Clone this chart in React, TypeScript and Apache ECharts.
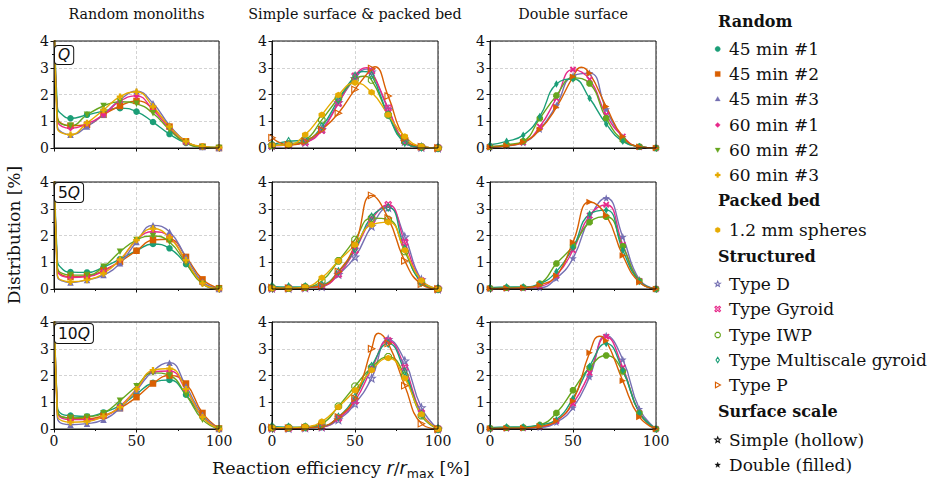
import React, { useEffect, useRef } from 'react';
import * as echarts from 'echarts';

// ---------------- data ----------------
const colTitles = ['Random monoliths', 'Simple surface & packed bed', 'Double surface'];
const rowLabels = ['Q', '5Q', '10Q'];

// x positions: random monoliths have extra unmarked points near 0 (steep rise)
const xRandom = [0, 2, 5, 10, 20, 30, 40, 50, 60, 70, 80, 90, 100];
const xStruct = [0, 10, 20, 30, 40, 50, 60, 70, 80, 90, 100];

const randomNames = ['45 min #1', '45 min #2', '45 min #3', '60 min #1', '60 min #2', '60 min #3'];
const structNames = ['Type D', 'Type Gyroid', 'Type IWP', 'Type Multiscale gyroid', 'Type P'];
const packedName = '1.2 mm spheres';

// Random monoliths, order of randomNames
const randomQ = [
  [6, 1.55, 1.24, 1.11, 1.24, 1.38, 1.49, 1.36, 0.97, 0.52, 0.19, 0.05, 0.02],
  [6, 1.2, 0.9, 0.83, 0.87, 1.24, 1.57, 1.76, 1.47, 0.8, 0.25, 0.05, 0.0],
  [6, 0.8, 0.58, 0.5, 0.8, 1.25, 1.8, 2.12, 1.67, 0.85, 0.25, 0.04, 0.0],
  [6, 1.1, 0.8, 0.74, 0.9, 1.24, 1.75, 1.95, 1.42, 0.74, 0.19, 0.04, 0.0],
  [6, 1.15, 0.88, 0.83, 1.24, 1.57, 1.73, 1.65, 1.3, 0.68, 0.19, 0.03, 0.0],
  [6, 0.75, 0.56, 0.5, 0.93, 1.42, 1.92, 2.1, 1.55, 0.8, 0.25, 0.06, 0.02],
];
const random5Q = [
  [6, 1.1, 0.75, 0.63, 0.62, 0.82, 1.12, 1.43, 1.68, 1.52, 0.93, 0.24, 0.02],
  [6, 0.8, 0.52, 0.46, 0.48, 0.7, 1.02, 1.43, 1.83, 1.86, 1.2, 0.36, 0.03],
  [6, 0.5, 0.3, 0.24, 0.34, 0.52, 0.96, 1.76, 2.38, 2.14, 1.2, 0.27, 0.0],
  [6, 0.75, 0.48, 0.43, 0.46, 0.67, 1.08, 1.83, 2.14, 1.95, 1.02, 0.21, 0.0],
  [6, 0.85, 0.58, 0.52, 0.52, 0.83, 1.39, 1.83, 1.98, 1.76, 0.96, 0.19, 0.0],
  [6, 0.55, 0.32, 0.27, 0.34, 0.58, 1.1, 1.83, 2.26, 1.93, 1.08, 0.21, 0.0],
];
const random10Q = [
  [6, 0.85, 0.55, 0.5, 0.47, 0.62, 0.87, 1.31, 1.73, 1.83, 1.28, 0.45, 0.0],
  [6, 0.75, 0.45, 0.41, 0.38, 0.5, 0.78, 1.19, 1.7, 2.0, 1.7, 0.6, 0.02],
  [6, 0.45, 0.2, 0.16, 0.2, 0.35, 0.78, 1.45, 2.17, 2.48, 1.6, 0.53, 0.0],
  [6, 0.65, 0.4, 0.35, 0.35, 0.45, 0.85, 1.49, 2.14, 2.17, 1.45, 0.45, 0.0],
  [6, 0.7, 0.45, 0.41, 0.45, 0.59, 1.06, 1.6, 2.1, 2.0, 1.28, 0.35, 0.0],
  [6, 0.55, 0.3, 0.25, 0.28, 0.47, 0.82, 1.49, 2.2, 2.26, 1.49, 0.45, 0.0],
];

// Simple surface (hollow), order of structNames
const simpleQ = [
  [0.1, 0.12, 0.22, 0.7, 1.7, 2.6, 2.85, 1.45, 0.25, 0.03, 0],
  [0.08, 0.12, 0.21, 0.66, 1.67, 2.69, 2.88, 1.49, 0.25, 0.03, 0],
  [0.1, 0.15, 0.3, 1.05, 1.86, 2.56, 2.54, 1.24, 0.25, 0.04, 0],
  [0.13, 0.25, 0.3, 0.8, 1.8, 2.69, 2.72, 1.24, 0.21, 0.03, 0],
  [0.38, 0.12, 0.25, 0.68, 1.3, 2.19, 2.97, 1.94, 0.37, 0.05, 0],
];
const simple5Q = [
  [0.03, 0.03, 0.05, 0.1, 0.55, 1.2, 2.35, 3.05, 1.95, 0.35, 0],
  [0.03, 0.03, 0.05, 0.1, 0.55, 1.45, 2.6, 3.15, 1.75, 0.3, 0],
  [0.05, 0.03, 0.07, 0.3, 1.05, 1.85, 2.65, 2.6, 1.4, 0.25, 0],
  [0.1, 0.08, 0.08, 0.15, 0.65, 1.5, 2.7, 3.05, 1.5, 0.25, 0],
  [0.05, 0.03, 0.05, 0.12, 0.65, 1.65, 3.5, 2.65, 1.05, 0.18, 0],
];
const simple10Q = [
  [0.03, 0.03, 0.05, 0.08, 0.35, 0.95, 1.9, 3.35, 2.55, 0.8, 0],
  [0.03, 0.03, 0.05, 0.08, 0.4, 1.05, 2.25, 3.3, 2.3, 0.6, 0],
  [0.05, 0.05, 0.07, 0.2, 0.85, 1.6, 2.3, 2.7, 2.0, 0.5, 0],
  [0.1, 0.07, 0.07, 0.1, 0.45, 1.2, 2.35, 3.2, 2.15, 0.55, 0],
  [0.05, 0.03, 0.05, 0.1, 0.45, 1.15, 3.0, 3.2, 1.62, 0.2, 0],
];
// Packed bed 1.2 mm spheres (shown with the simple surface panels)
const packedQ = [0.1, 0.12, 0.5, 1.24, 1.98, 2.44, 2.08, 1.24, 0.43, 0.06, 0];
const packed5Q = [0.03, 0.02, 0.07, 0.42, 1.05, 1.65, 2.4, 2.5, 1.45, 0.32, 0];
const packed10Q = [0.05, 0.05, 0.08, 0.28, 0.82, 1.45, 2.2, 2.65, 1.9, 0.55, 0];

// Double surface (filled), order of structNames
const doubleQ = [
  [0.03, 0.08, 0.2, 0.7, 1.6, 2.7, 2.8, 1.45, 0.4, 0.05, 0],
  [0.05, 0.1, 0.21, 0.8, 1.86, 2.93, 2.56, 1.24, 0.43, 0.04, 0],
  [0.05, 0.12, 0.25, 1.11, 1.96, 2.62, 2.41, 1.11, 0.3, 0.05, 0],
  [0.12, 0.25, 0.48, 1.18, 2.39, 2.58, 1.86, 0.9, 0.25, 0.06, 0],
  [0.03, 0.08, 0.22, 0.68, 1.52, 2.66, 2.79, 1.55, 0.43, 0.05, 0],
];
const double5Q = [
  [0.02, 0.03, 0.04, 0.05, 0.4, 1.15, 2.65, 3.4, 1.95, 0.35, 0],
  [0.02, 0.03, 0.04, 0.1, 0.5, 1.45, 2.75, 3.15, 1.65, 0.3, 0],
  [0.03, 0.05, 0.06, 0.2, 0.95, 1.6, 2.5, 2.7, 1.6, 0.3, 0],
  [0.05, 0.08, 0.08, 0.2, 0.65, 1.55, 2.8, 2.95, 1.45, 0.28, 0],
  [0.02, 0.03, 0.05, 0.15, 0.5, 1.75, 3.25, 2.75, 1.25, 0.25, 0],
];
const double10Q = [
  [0.02, 0.03, 0.04, 0.06, 0.25, 0.8, 1.95, 3.5, 2.6, 0.75, 0],
  [0.02, 0.03, 0.04, 0.08, 0.3, 0.95, 2.1, 3.45, 2.3, 0.6, 0],
  [0.03, 0.05, 0.06, 0.15, 0.6, 1.45, 2.3, 2.75, 2.15, 0.6, 0],
  [0.05, 0.08, 0.08, 0.15, 0.35, 1.15, 2.35, 3.2, 2.2, 0.6, 0],
  [0.02, 0.03, 0.04, 0.1, 0.3, 1.05, 2.85, 3.3, 1.8, 0.45, 0],
];

// Curve maxima read between markers (unmarked points), order of structNames; null = none
const simpleQPeaks = [[57, 2.95], [57, 3.0], [55, 2.68], [55, 2.86], [62, 3.04]];
const simple10QPeaks = [null, null, null, null, [64, 3.58]];
const doubleQPeaks = [null, null, null, null, [55, 3.02]];
const double10QPeaks = [null, null, null, null, [66, 3.47]];

// ---------------- styles ----------------
const SERIF = '"DejaVu Serif", serif';
const SANS = '"DejaVu Sans", sans-serif';
const TEAL = '#1b9e77', ORANGE = '#d95f02', PURPLE = '#7570b3', PINK = '#e7298a', GREEN = '#66a61e', YELLOW = '#e6ab02';
const randomColors = [TEAL, ORANGE, PURPLE, PINK, GREEN, YELLOW];
const randomShapes = ['circle', 'square', 'triangle', 'diamond', 'tridown', 'plus'];
const structColors = [PURPLE, PINK, GREEN, TEAL, ORANGE];
const structShapes = ['star', 'cross', 'octagon', 'thindiamond', 'triright'];

function regular(n: number, r: number, start: number) {
  const pts: number[][] = [];
  for (let k = 0; k < n; k++) {
    const a = start + (k * 2 * Math.PI) / n;
    pts.push([r * Math.cos(a), r * Math.sin(a)]);
  }
  return pts;
}
function starPts() {
  const pts: number[][] = [];
  for (let k = 0; k < 10; k++) {
    const r = k % 2 ? 0.42 : 1;
    const a = -Math.PI / 2 + (k * Math.PI) / 5;
    pts.push([r * Math.cos(a), r * Math.sin(a)]);
  }
  return pts;
}
const SHAPES: Record<string, number[][]> = {
  square: [[-1, -1], [1, -1], [1, 1], [-1, 1]],
  triangle: [[0, -1], [1, 0.75], [-1, 0.75]],
  diamond: [[0, -1], [1, 0], [0, 1], [-1, 0]],
  tridown: [[-1, -0.75], [1, -0.75], [0, 1]],
  plus: [[-0.36, -1], [0.36, -1], [0.36, -0.36], [1, -0.36], [1, 0.36], [0.36, 0.36], [0.36, 1], [-0.36, 1], [-0.36, 0.36], [-1, 0.36], [-1, -0.36], [-0.36, -0.36]],
  hexagon: regular(6, 1, -Math.PI / 2),
  octagon: regular(8, 1, Math.PI / 8),
  star: starPts(),
  cross: [[-0.6, -1], [0, -0.4], [0.6, -1], [1, -0.6], [0.4, 0], [1, 0.6], [0.6, 1], [0, 0.4], [-0.6, 1], [-1, 0.6], [-0.4, 0], [-1, -0.6]],
  thindiamond: [[0, -1], [0.6, 0], [0, 1], [-0.6, 0]],
  triright: [[-0.8, -1], [1, 0], [-0.8, 1]],
};
function symbolOf(shape: string) {
  if (shape === 'circle') return 'circle';
  const pts = SHAPES[shape];
  return 'path://M' + pts.map((p) => p[0].toFixed(3) + ',' + p[1].toFixed(3)).join('L') + 'Z';
}
function symbolSizeOf(shape: string): any {
  if (shape === 'thindiamond') return [4.5, 7.5];
  if (shape === 'circle') return 6.5;
  if (shape === 'star') return 7.5;
  return 6.5;
}

// layout
const colLeft = [54, 272, 490];
const colW = [165, 166, 166];
const rowTop = [41, 182, 322];
const rowH = 107;

function makeSeries(gi: number, xs: number[], vals: number[], shape: string, color: string, hollow: boolean, hidden: number, name: string, peak?: number[] | null) {
  const data: any[] = xs.map((x, i) => (i < hidden ? { value: [x, vals[i]], symbol: 'none' } : [x, vals[i]]));
  if (peak) {
    const idx = data.findIndex((d) => (Array.isArray(d) ? d[0] : d.value[0]) > peak[0]);
    data.splice(idx, 0, { value: [peak[0], peak[1]], symbol: 'none' });
  }
  return {
    type: 'line',
    name,
    xAxisIndex: gi,
    yAxisIndex: gi,
    data,
    smooth: 0.5,
    symbol: symbolOf(shape),
    symbolSize: symbolSizeOf(shape),
    showAllSymbol: true,
    itemStyle: {
      color: hollow ? 'rgba(255,255,255,0)' : color,
      borderColor: color,
      borderWidth: hollow ? 1.1 : 0,
    },
    lineStyle: { color, width: 1.4 },
    emphasis: { disabled: true },
    clip: true,
    z: 3,
  };
}

function legendMarker(shape: string, cx: number, cy: number, r: number, color: string, hollow: boolean) {
  const style = hollow
    ? { fill: 'rgba(255,255,255,0)', stroke: color, lineWidth: 1.1 }
    : { fill: color, stroke: color, lineWidth: 0.3 };
  if (shape === 'circle') return { type: 'circle', shape: { cx, cy, r }, style };
  const pts = SHAPES[shape].map((p) => [cx + p[0] * r, cy + p[1] * r]);
  return { type: 'polygon', shape: { points: pts }, style };
}
function txt(text: string, x: number, y: number, font: string, align = 'left', extra: any = {}) {
  return {
    type: 'text',
    x,
    y,
    ...extra,
    style: { text, font, fill: '#111', align, verticalAlign: 'middle', textAlign: align, textVerticalAlign: 'middle' },
  };
}

export default function App() {
  const ref = useRef<HTMLDivElement>(null);
  useEffect(() => {
    if (!ref.current) return;
    const chart = echarts.init(ref.current, null, { renderer: 'svg' });

    const grids: any[] = [];
    const xAxes: any[] = [];
    const yAxes: any[] = [];
    for (let r = 0; r < 3; r++) {
      for (let c = 0; c < 3; c++) {
        const gi = r * 3 + c;
        grids.push({ left: colLeft[c], top: rowTop[r], width: colW[c], height: rowH, show: true, borderColor: '#111', borderWidth: 1, backgroundColor: 'rgba(0,0,0,0)', z: 5 });
        xAxes.push({
          gridIndex: gi, type: 'value', min: 0, max: 100, interval: 50,
          axisLine: { show: true, onZero: false, lineStyle: { color: '#111', width: 1 } },
          axisTick: { show: true, length: 3.5, lineStyle: { color: '#111' } },
          minorTick: { show: true, splitNumber: 2, length: 2, lineStyle: { color: '#111' } },
          splitLine: { show: true, lineStyle: { color: '#c8c8c8', type: [3, 2], width: 0.8 } },
          axisLabel: { show: r === 2, fontFamily: SERIF, fontSize: 14, color: '#111', margin: 5 },
        });
        yAxes.push({
          gridIndex: gi, type: 'value', min: 0, max: 4, interval: 1,
          axisLine: { show: true, onZero: false, lineStyle: { color: '#111', width: 1 } },
          axisTick: { show: true, length: 3.5, lineStyle: { color: '#111' } },
          minorTick: { show: true, splitNumber: 2, length: 2, lineStyle: { color: '#111' } },
          splitLine: { show: true, lineStyle: { color: '#c8c8c8', type: [3, 2], width: 0.8 } },
          axisLabel: { show: true, fontFamily: SERIF, fontSize: 14, color: '#111', margin: 5 },
        });
      }
    }

    const series: any[] = [];
    const randomRows = [randomQ, random5Q, random10Q];
    const simpleRows = [simpleQ, simple5Q, simple10Q];
    const simplePeaks: any[] = [simpleQPeaks, [], simple10QPeaks];
    const packedRows = [packedQ, packed5Q, packed10Q];
    const doubleRows = [doubleQ, double5Q, double10Q];
    const doublePeaks: any[] = [doubleQPeaks, [], double10QPeaks];
    for (let r = 0; r < 3; r++) {
      randomRows[r].forEach((vals, i) =>
        series.push(makeSeries(r * 3, xRandom, vals, randomShapes[i], randomColors[i], false, 3, randomNames[i])));
      simpleRows[r].forEach((vals, i) =>
        series.push(makeSeries(r * 3 + 1, xStruct, vals, structShapes[i], structColors[i], true, 0, structNames[i] + ' simple', simplePeaks[r][i])));
      series.push(makeSeries(r * 3 + 1, xStruct, packedRows[r], 'hexagon', YELLOW, false, 0, packedName));
      doubleRows[r].forEach((vals, i) =>
        series.push(makeSeries(r * 3 + 2, xStruct, vals, structShapes[i], structColors[i], false, 0, structNames[i] + ' double', doublePeaks[r][i])));
    }

    const graphics: any[] = [];
    // column titles
    colTitles.forEach((t, c) => graphics.push(txt(t, colLeft[c] + colW[c] / 2, 14, '14.3px ' + SERIF, 'center')));
    // y label
    graphics.push({
      type: 'text', x: 14, y: 235, rotation: Math.PI / 2,
      style: { text: 'Distribution [%]', font: '17px ' + SERIF, fill: '#111', align: 'center', verticalAlign: 'middle', textAlign: 'center', textVerticalAlign: 'middle' },
    });
    // x label
    graphics.push({
      type: 'text', x: 341, y: 468,
      style: {
        text: '{a|Reaction efficiency }{i|r}{a|/}{i|r}{s|max}{a| [%]}',
        align: 'center', verticalAlign: 'middle', textAlign: 'center', textVerticalAlign: 'middle',
        rich: {
          a: { fontFamily: SERIF, fontSize: 17.5, fill: '#111', lineHeight: 24 },
          i: { fontFamily: SANS, fontStyle: 'italic', fontSize: 17.5, fill: '#111', lineHeight: 24 },
          s: { fontFamily: SANS, fontSize: 12.5, fill: '#111', verticalAlign: 'bottom' },
        },
      },
    });
    // row labels in boxes
    const rowBoxY = [46, 183, 324];
    rowLabels.forEach((lab, r) => {
      const num = lab.slice(0, lab.length - 1);
      graphics.push({
        type: 'text', x: 55, y: rowBoxY[r], z: 50,
        style: {
          text: (num ? '{n|' + num + '}' : '') + '{q|Q}',
          align: 'left', verticalAlign: 'top', textAlign: 'left', textVerticalAlign: 'top',
          backgroundColor: '#fff', borderColor: '#111', borderWidth: 1, borderRadius: 3,
          padding: r === 0 ? [1, 3, 1, 3] : [2, 3, 1, 3],
          rich: {
            n: { fontFamily: SANS, fontSize: 15.5, fill: '#111' },
            q: { fontFamily: SANS, fontStyle: 'italic', fontSize: 15.5, fill: '#111' },
          },
        },
      });
    });
    // legend
    const HX = 718, MX = 717.7, TX = 729;
    const headFont = 'bold 16px ' + SERIF;
    const itemFont = '17px ' + SERIF;
    graphics.push(txt('Random', HX, 21, headFont));
    const randY = [49, 74, 99, 125, 150, 175];
    randomNames.forEach((n, i) => {
      graphics.push(legendMarker(randomShapes[i], MX, randY[i], randomShapes[i] === 'circle' ? 2.7 : 2.6, randomColors[i], false));
      graphics.push(txt(n, TX, randY[i], itemFont));
    });
    graphics.push(txt('Packed bed', HX, 200, headFont));
    graphics.push(legendMarker('hexagon', MX, 230, 2.8, YELLOW, false));
    graphics.push(txt(packedName, TX, 230, itemFont));
    graphics.push(txt('Structured', HX, 256, headFont));
    const strY = [284, 309, 335, 360, 385];
    structNames.forEach((n, i) => {
      graphics.push(legendMarker(structShapes[i], MX, strY[i], 2.8, structColors[i], true));
      graphics.push(txt(n, TX, strY[i], itemFont));
    });
    graphics.push(txt('Surface scale', HX, 411, headFont));
    graphics.push(legendMarker('star', MX, 440, 3, '#111', true));
    graphics.push(txt('Simple (hollow)', TX, 440, itemFont));
    graphics.push(legendMarker('star', MX, 465, 3, '#111', false));
    graphics.push(txt('Double (filled)', TX, 465, itemFont));

    chart.setOption({
      animation: false,
      backgroundColor: '#fff',
      grid: grids,
      xAxis: xAxes,
      yAxis: yAxes,
      series,
      graphic: graphics,
    });
    return () => chart.dispose();
  }, []);
  return <div ref={ref} style={{ position: 'absolute', left: 0, top: 0, width: 938, height: 486 }} />;
}
